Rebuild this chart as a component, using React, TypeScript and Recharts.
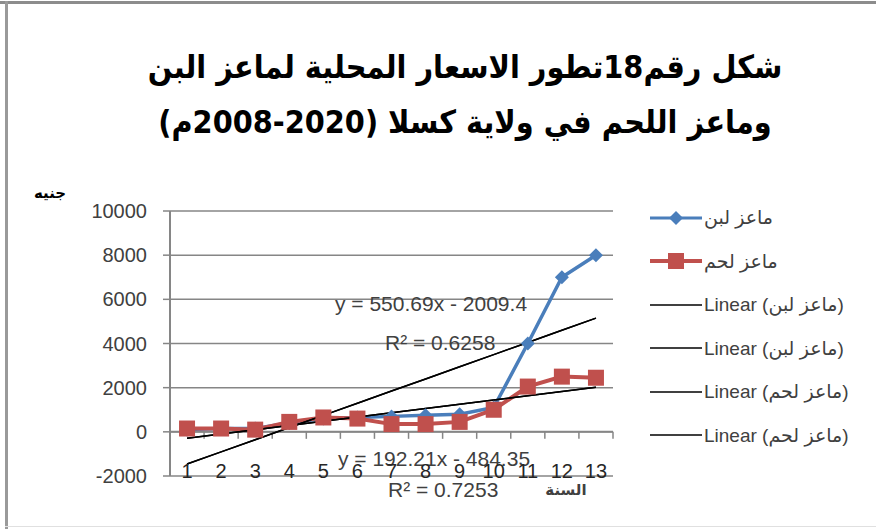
import { ComposedChart, Line, XAxis, YAxis, CartesianGrid, ReferenceLine, Legend } from 'recharts';

const years = [1, 2, 3, 4, 5, 6, 7, 8, 9, 10, 11, 12, 13];
const milkPrices = [100, 150, 150, 400, 600, 650, 700, 750, 800, 1100, 4000, 7000, 8000];
const meatPrices = [150, 150, 100, 450, 650, 600, 350, 350, 450, 1000, 2050, 2500, 2450];
const yTicks = [-2000, 0, 2000, 4000, 6000, 8000, 10000];

// trendline coefficients as printed on the chart
const milkTrend = { slope: 550.69, intercept: -2009.4, r2: '0.6258' };
const meatTrend = { slope: 192.21, intercept: -484.35, r2: '0.7253' };

const titleLines = ['شكل رقم18تطور الاسعار المحلية لماعز البن', 'وماعز اللحم في ولاية كسلا (2020-2008م)'];
const milkName = 'ماعز لبن';
const meatName = 'ماعز لحم';
const yLabel = 'جنيه';
const xLabel = 'السنة';

const BLUE = '#4a7ebb';
const RED = '#c0504d';
const GRID = '#868686';
const TEXT = '#404040';
const FONT = "'Liberation Sans', 'DejaVu Sans', Arial, sans-serif";

const data = years.map((year, i) => ({
  year,
  milk: milkPrices[i],
  meat: meatPrices[i],
  milkFit: milkTrend.slope * year + milkTrend.intercept,
  meatFit: meatTrend.slope * year + meatTrend.intercept,
}));

const legendItems = [
  { label: milkName, color: BLUE, marker: 'diamond', width: 3 },
  { label: meatName, color: RED, marker: 'square', width: 4 },
  { label: `Linear (${milkName})`, color: '#000', marker: 'none', width: 1.5 },
  { label: `Linear (${milkName})`, color: '#000', marker: 'none', width: 1.5 },
  { label: `Linear (${meatName})`, color: '#000', marker: 'none', width: 1.5 },
  { label: `Linear (${meatName})`, color: '#000', marker: 'none', width: 1.5 },
];

function Diamond(props: any) {
  const { cx, cy } = props;
  if (cx == null || cy == null) return null;
  const r = 7;
  return <path d={`M${cx},${cy - r}L${cx + r},${cy}L${cx},${cy + r}L${cx - r},${cy}Z`} fill={BLUE} />;
}

function Square(props: any) {
  const { cx, cy } = props;
  if (cx == null || cy == null) return null;
  const s = 16;
  return <rect x={cx - s / 2} y={cy - s / 2} width={s} height={s} fill={RED} />;
}

function YearTick(props: any) {
  const { x, y, payload } = props;
  return (
    <text x={x} y={y + 2} textAnchor="middle" fontSize={20} fontFamily={FONT} fill="#262626">
      {payload.value}
    </text>
  );
}

// horizontal axis crosses at 0, with tick marks between categories
function ZeroAxis(props: any) {
  const { x1, x2, y1 } = props;
  const step = (x2 - x1) / years.length;
  return (
    <g>
      <line x1={x1} x2={x2} y1={y1} y2={y1} stroke={GRID} strokeWidth={2} />
      {years.concat([years.length + 1]).map((_, k) => (
        <line key={k} x1={x1 + k * step} x2={x1 + k * step} y1={y1} y2={y1 + 7} stroke={GRID} strokeWidth={1.5} />
      ))}
    </g>
  );
}

function ChartLegend() {
  return (
    <div style={{ display: 'flex', flexDirection: 'column' }}>
      {legendItems.map((item, i) => (
        <div key={i} style={{ height: 43.5, display: 'flex', alignItems: 'center' }}>
          <svg width={54} height={20} style={{ flex: 'none' }}>
            <line x1={0} x2={52} y1={10} y2={10} stroke={item.color} strokeWidth={item.width} />
            {item.marker === 'diamond' && <path d="M26,3L33,10L26,17L19,10Z" fill={BLUE} />}
            {item.marker === 'square' && <rect x={18} y={2} width={16} height={16} fill={RED} />}
          </svg>
          <span style={{ fontFamily: FONT, fontSize: 19, color: TEXT, whiteSpace: 'nowrap' }}>{item.label}</span>
        </div>
      ))}
    </div>
  );
}

export default function App() {
  return (
    <div
      style={{
        position: 'absolute',
        left: 0,
        top: 0,
        width: 876,
        height: 529,
        background: '#fff',
        overflow: 'hidden',
      }}
    >
      <div style={{ position: 'absolute', left: 0, top: 1, width: 876, height: 3, background: '#8c8c8c' }} />
      <div style={{ position: 'absolute', left: 5, top: 1, width: 3, height: 528, background: '#9a9a9a' }} />
      <div style={{ position: 'absolute', left: 5, top: 526, width: 871, height: 1, background: '#e0e0e0' }} />

      <div
        style={{
          position: 'absolute',
          left: 60,
          top: 40,
          width: 810,
          textAlign: 'center',
          direction: 'rtl',
          fontFamily: "'DejaVu Sans', sans-serif",
          fontWeight: 'bold',
          fontSize: 32,
          lineHeight: '55px',
          color: '#000',
          transform: 'scaleX(0.9)',
        }}
      >
        {titleLines.map((t, i) => (
          <div key={i}>{t}</div>
        ))}
      </div>

      <ComposedChart
        width={876}
        height={529}
        data={data}
        margin={{ top: 211, right: 263, bottom: 52, left: 100 }}
        style={{ position: 'absolute', left: 0, top: 0 }}
      >
        <CartesianGrid vertical={false} stroke={GRID} strokeWidth={1.5} />
        <XAxis
          dataKey="year"
          type="number"
          domain={[0.5, 13.5]}
          ticks={years}
          interval={0}
          axisLine={false}
          tickLine={false}
          tickSize={0}
          tickMargin={0}
          height={1}
          tick={<YearTick />}
        />
        <YAxis
          domain={[-2000, 10000]}
          ticks={yTicks}
          interval={0}
          width={70}
          tickSize={7}
          tickMargin={16}
          axisLine={{ stroke: GRID, strokeWidth: 2 }}
          tickLine={{ stroke: GRID, strokeWidth: 1.5 }}
          tick={{ fill: TEXT, fontSize: 20, fontFamily: FONT }}
        />
        <ReferenceLine y={0} shape={<ZeroAxis />} />
        <Line dataKey="milk" name={milkName} stroke={BLUE} strokeWidth={3.5} dot={<Diamond />} activeDot={false} isAnimationActive={false} />
        <Line dataKey="meat" name={meatName} stroke={RED} strokeWidth={4} dot={<Square />} activeDot={false} isAnimationActive={false} />
        <Line dataKey="milkFit" name={`Linear (${milkName})`} stroke="#000" strokeWidth={1.5} dot={false} activeDot={false} isAnimationActive={false} />
        <Line dataKey="milkFit" name={`Linear (${milkName})`} stroke="#000" strokeWidth={1.5} dot={false} activeDot={false} isAnimationActive={false} />
        <Line dataKey="meatFit" name={`Linear (${meatName})`} stroke="#000" strokeWidth={1.5} dot={false} activeDot={false} isAnimationActive={false} />
        <Line dataKey="meatFit" name={`Linear (${meatName})`} stroke="#000" strokeWidth={1.5} dot={false} activeDot={false} isAnimationActive={false} />
        <Legend
          layout="horizontal"
          align="center"
          verticalAlign="middle"
          content={<ChartLegend />}
          wrapperStyle={{ left: 650, top: 196, width: 226 }}
        />

        <text x={335} y={311} fontSize={21} fontFamily={FONT} fill={TEXT}>
          {`y = ${milkTrend.slope}x - ${Math.abs(milkTrend.intercept)}`}
        </text>
        <text x={385} y={350} fontSize={21} fontFamily={FONT} fill={TEXT}>
          R² = {milkTrend.r2}
        </text>
        <text x={338} y={466} fontSize={21} fontFamily={FONT} fill={TEXT}>
          {`y = ${meatTrend.slope}x - ${Math.abs(meatTrend.intercept)}`}
        </text>
        <text x={388} y={497} fontSize={21} fontFamily={FONT} fill={TEXT}>
          R² = {meatTrend.r2}
        </text>
        <text x={566} y={495} textAnchor="middle" fontSize={15} fontWeight="bold" fontFamily="'DejaVu Sans', sans-serif" fill={TEXT}>
          {xLabel}
        </text>
        <text x={50} y={198} textAnchor="middle" fontSize={15} fontWeight="bold" fontFamily="'DejaVu Sans', sans-serif" fill="#000">
          {yLabel}
        </text>
      </ComposedChart>
    </div>
  );
}
